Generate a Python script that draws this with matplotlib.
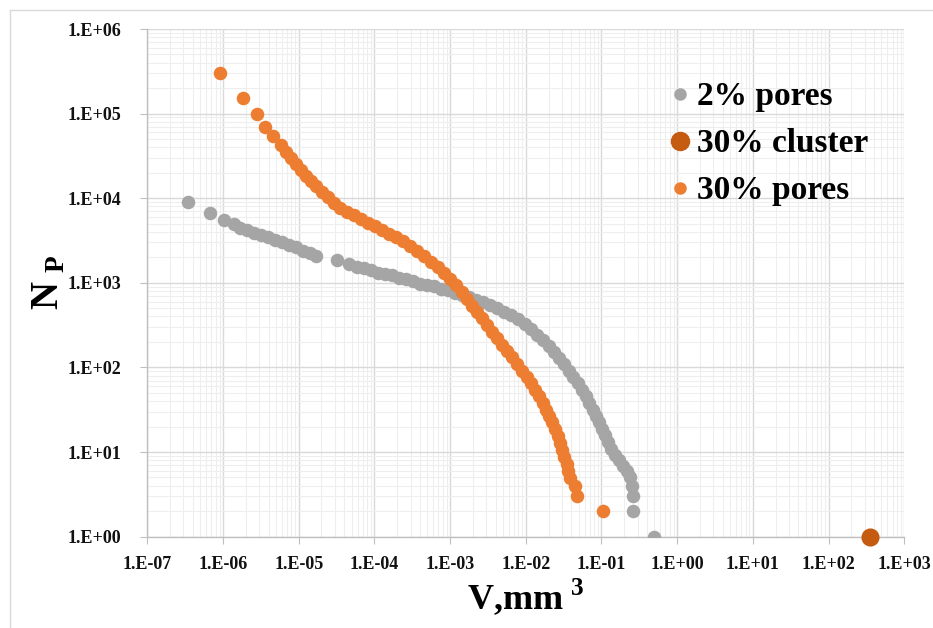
import numpy as np
import matplotlib
matplotlib.use("Agg")
import matplotlib.pyplot as plt
from matplotlib.lines import Line2D
from matplotlib.ticker import LogLocator, FixedLocator, NullFormatter

plt.rcParams['font.family'] = ['Liberation Serif', 'DejaVu Serif']
plt.rcParams['mathtext.fontset'] = 'custom'
plt.rcParams['mathtext.rm'] = 'Liberation Serif:bold'
plt.rcParams['mathtext.bf'] = 'Liberation Serif:bold'

# values, stored as log10 (V in mm^3, N_P count)
pores2_logv = [-6.46, -6.17, -5.99, -5.86, -5.78, -5.68, -5.59, -5.50, -5.41, -5.31,
               -5.22, -5.13, -5.04, -4.94, -4.85, -4.77,
               -4.50, -4.33, -4.23, -4.14, -4.04, -3.95, -3.86, -3.77, -3.67, -3.58,
               -3.49, -3.40, -3.31, -3.21, -3.12, -3.03, -2.94, -2.84, -2.75, -2.66,
               -2.57, -2.47, -2.38, -2.29, -2.20, -2.10, -2.01, -1.93, -1.85, -1.77,
               -1.69, -1.63, -1.56, -1.49, -1.43, -1.37, -1.31, -1.26, -1.20, -1.16,
               -1.11, -1.07, -1.03, -0.99, -0.95, -0.91, -0.87, -0.82, -0.77, -0.72,
               -0.66, -0.62, -0.60, -0.59, -0.59, -0.31]
pores2_logn = [3.95, 3.83, 3.74, 3.69, 3.65, 3.62, 3.59, 3.56, 3.54, 3.51,
               3.48, 3.45, 3.42, 3.38, 3.35, 3.32,
               3.27, 3.22, 3.19, 3.17, 3.15, 3.12, 3.10, 3.09, 3.06, 3.04,
               3.02, 2.99, 2.97, 2.96, 2.93, 2.91, 2.88, 2.86, 2.83, 2.80,
               2.77, 2.74, 2.70, 2.66, 2.62, 2.57, 2.51, 2.45, 2.38, 2.32,
               2.25, 2.18, 2.11, 2.04, 1.96, 1.89, 1.81, 1.73, 1.66, 1.58,
               1.50, 1.43, 1.35, 1.27, 1.20, 1.12, 1.04, 0.97, 0.90, 0.83,
               0.77, 0.70, 0.60, 0.477, 0.301, 0.0]

pores30_logv = [-6.04, -5.73, -5.55, -5.44, -5.34, -5.24, -5.17, -5.10, -5.04, -4.97,
                -4.90, -4.84, -4.77, -4.69, -4.61, -4.53, -4.45, -4.36, -4.27, -4.18,
                -4.08, -3.99, -3.90, -3.81, -3.71, -3.62, -3.53, -3.44, -3.35, -3.25,
                -3.16, -3.08, -3.00, -2.92, -2.84, -2.78, -2.71, -2.64, -2.58, -2.51,
                -2.45, -2.38, -2.31, -2.25, -2.18, -2.12, -2.05, -1.98, -1.93, -1.88,
                -1.83, -1.77, -1.73, -1.69, -1.65, -1.61, -1.58, -1.55, -1.52, -1.49,
                -1.46, -1.44, -1.41, -1.35, -1.33, -0.98]
pores30_logn = [5.48, 5.19, 4.99, 4.84, 4.73, 4.63, 4.55, 4.48, 4.40, 4.33,
                4.26, 4.20, 4.14, 4.07, 4.01, 3.94, 3.89, 3.84, 3.80, 3.75,
                3.71, 3.67, 3.62, 3.58, 3.54, 3.49, 3.43, 3.38, 3.32, 3.25,
                3.19, 3.12, 3.05, 2.97, 2.89, 2.81, 2.73, 2.65, 2.58, 2.50,
                2.42, 2.35, 2.27, 2.19, 2.12, 2.04, 1.96, 1.89, 1.81, 1.73,
                1.66, 1.58, 1.50, 1.43, 1.35, 1.27, 1.19, 1.11, 1.02, 0.94,
                0.86, 0.78, 0.69, 0.60, 0.477, 0.301]

cluster30_v = [350.0]
cluster30_n = [1.0]

labels = ['2% pores', '30% cluster', '30% pores']
colors = ['#A5A5A5', '#C55A11', '#ED7D31']

xtick_vals = [10.0 ** k for k in range(-7, 4)]
xtick_labels = ['1.E-07', '1.E-06', '1.E-05', '1.E-04', '1.E-03', '1.E-02',
                '1.E-01', '1.E+00', '1.E+01', '1.E+02', '1.E+03']
ytick_vals = [10.0 ** k for k in range(0, 7)]
ytick_labels = ['1.E+00', '1.E+01', '1.E+02', '1.E+03', '1.E+04', '1.E+05', '1.E+06']


def draw_chart():
    fig = plt.figure(figsize=(9.33, 6.28), dpi=100)
    ax = fig.add_axes([0.1579, 0.1455, 0.8113, 0.8083])

    ax.scatter(10 ** np.array(pores2_logv), 10 ** np.array(pores2_logn),
               s=95, color=colors[0], linewidths=0, zorder=3)
    ax.scatter(10 ** np.array(pores30_logv), 10 ** np.array(pores30_logn),
               s=95, color=colors[2], linewidths=0, zorder=3)
    ax.scatter(cluster30_v, cluster30_n, s=170, color=colors[1],
               linewidths=0, zorder=4, clip_on=False)

    ax.set_xscale('log')
    ax.set_yscale('log')
    ax.set_xlim(1e-7, 1e3)
    ax.set_ylim(1, 1e6)

    ax.xaxis.set_major_locator(FixedLocator(xtick_vals))
    ax.yaxis.set_major_locator(FixedLocator(ytick_vals))
    ax.set_xticklabels(xtick_labels, fontsize=13, fontweight='bold')
    ax.set_yticklabels(ytick_labels, fontsize=13, fontweight='bold')
    ax.xaxis.set_minor_locator(LogLocator(base=10, subs=np.arange(2, 10), numticks=20))
    ax.yaxis.set_minor_locator(LogLocator(base=10, subs=np.arange(2, 10), numticks=20))
    ax.xaxis.set_minor_formatter(NullFormatter())
    ax.yaxis.set_minor_formatter(NullFormatter())

    ax.grid(True, which='major', color='#D9D9D9', linewidth=1.0, zorder=0)
    ax.grid(True, which='minor', color='#EEEEEE', linewidth=0.8, zorder=0)
    ax.set_axisbelow(True)

    for side in ['top', 'right']:
        ax.spines[side].set_visible(False)
    for side in ['left', 'bottom']:
        ax.spines[side].set_color('#BFBFBF')
        ax.spines[side].set_linewidth(1.0)
    ax.tick_params(which='major', length=5, color='#BFBFBF', labelcolor='#111111')
    ax.tick_params(axis='x', which='major', pad=9)
    ax.tick_params(axis='y', which='major', pad=14)
    ax.tick_params(which='minor', length=0)

    ax.set_xlabel('V,mm$^{\\ 3}$', fontsize=26, fontweight='bold', labelpad=2)
    ax.set_ylabel('N$_{\\ \\mathrm{P}}$', fontsize=28, fontweight='bold')
    ax.yaxis.set_label_coords(-0.105, 0.5)

    handles = [
        Line2D([], [], linestyle='none', marker='o', markersize=8, color=colors[0]),
        Line2D([], [], linestyle='none', marker='o', markersize=13, color=colors[1]),
        Line2D([], [], linestyle='none', marker='o', markersize=8, color=colors[2]),
    ]
    ax.legend(handles, labels, loc='upper left', bbox_to_anchor=(0.66, 0.93),
              frameon=False, prop={'family': 'Liberation Serif', 'weight': 'bold', 'size': 24},
              handletextpad=0.0, handlelength=1.0, labelspacing=0.48, borderpad=0)

    # thin frame of the chart area
    fig.add_artist(Line2D([10 / 933, 1], [1 - 10 / 628, 1 - 10 / 628],
                          color='#D9D9D9', linewidth=1.0, transform=fig.transFigure))
    fig.add_artist(Line2D([10 / 933, 10 / 933], [0, 1 - 10 / 628],
                          color='#D9D9D9', linewidth=1.0, transform=fig.transFigure))

    fig.savefig('out.png', dpi=100)


if __name__ == '__main__':
    draw_chart()
